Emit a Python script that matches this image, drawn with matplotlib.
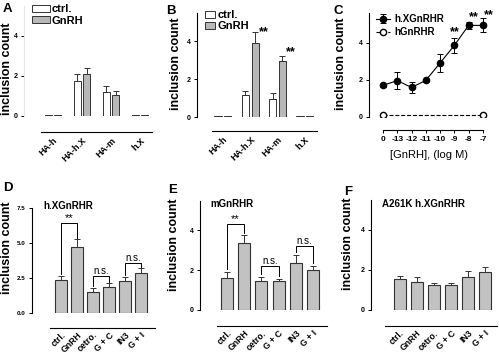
import numpy as np
import matplotlib
matplotlib.use('Agg')
import matplotlib.pyplot as plt

plt.rcParams['font.family'] = ['Liberation Sans', 'DejaVu Sans']
plt.rcParams['font.weight'] = 'bold'

W, H = 499, 356

# Panel A / B: construct localisation
ab_cats = ['HA-h', 'HA-h.X', 'HA-m', 'h.X']
a_ctrl = [0.05, 1.75, 1.2, 0.05]
a_ctrl_err = [0.0, 0.37, 0.28, 0.0]
a_gnrh = [0.05, 2.1, 1.05, 0.05]
a_gnrh_err = [0.0, 0.28, 0.22, 0.0]
b_ctrl = [0.06, 1.16, 0.96, 0.06]
b_ctrl_err = [0.0, 0.22, 0.32, 0.0]
b_gnrh = [0.06, 3.93, 2.98, 0.04]
b_gnrh_err = [0.0, 0.57, 0.22, 0.0]

# Panel C: dose response
c_labels = ['0', '-13', '-12', '-11', '-10', '-9', '-8', '-7']
c_hx = [1.69, 1.95, 1.58, 1.96, 2.9, 3.85, 4.93, 4.93]
c_hx_err = [0.06, 0.45, 0.28, 0.1, 0.48, 0.42, 0.2, 0.38]
c_h = [0.07, 0.07, 0.07, 0.07, 0.07, 0.07, 0.07, 0.07]

# Panels D-F: treatments
def_cats = ['ctrl.', 'GnRH', 'cetro.', 'G + C', 'IN3', 'G + I']
d_vals = [2.35, 4.7, 1.5, 1.83, 2.28, 2.88]
d_err = [0.29, 0.58, 0.28, 0.28, 0.31, 0.31]
e_vals = [1.63, 3.38, 1.48, 1.45, 2.37, 2.02]
e_err = [0.29, 0.37, 0.19, 0.12, 0.41, 0.2]
f_vals = [1.55, 1.42, 1.25, 1.25, 1.67, 1.89]
f_err = [0.15, 0.22, 0.08, 0.1, 0.3, 0.25]

GREY = '#b8b8b8'
EDGE = '#333333'

fig = plt.figure(figsize=(W / 100, H / 100), dpi=100)


def px_axes(x0, y0, x1, y1, offset_px, bounds, left_color='black'):
    # pixel box (top-left origin) -> figure axes, prism-like spines
    ax = fig.add_axes([x0 / W, 1 - y1 / H, (x1 - x0) / W, (y1 - y0) / H])
    for s in ['top', 'right']:
        ax.spines[s].set_visible(False)
    # set_position resets the ticks, so do it before any labels are set
    ax.spines['bottom'].set_position(('outward', offset_px * 0.72))
    ax.spines['bottom'].set_bounds(*bounds)
    ax.spines['left'].set_color(left_color)
    ax.spines['left'].set_linewidth(0.8)
    ax.spines['bottom'].set_linewidth(0.8)
    ax.tick_params(axis='y', length=2.5, width=0.7, labelsize=5, pad=2)
    return ax


def paired_bars(ax, ctrl, ctrl_err, gnrh, gnrh_err, w, off):
    x = np.arange(len(ab_cats))
    kw = dict(edgecolor=EDGE, linewidth=0.7)
    ax.bar(x - off, ctrl, w, color='white', label='ctrl.', **kw)
    ax.bar(x + off, gnrh, w, color=GREY, label='GnRH', **kw)
    ekw = dict(fmt='none', ecolor=EDGE, elinewidth=0.7, capsize=2, capthick=0.7)
    ax.errorbar(x - off, ctrl, yerr=[np.zeros(4), ctrl_err], **ekw)
    ax.errorbar(x + off, gnrh, yerr=[np.zeros(4), gnrh_err], **ekw)
    ax.set_xticks(x)
    ax.set_xticklabels(ab_cats, rotation=45, ha='right', rotation_mode='anchor', fontsize=6.5)
    ax.tick_params(axis='x', length=0, pad=3)


# ---- A
axA = px_axes(24, 6, 153, 116, 16, (-0.4, 3.4), left_color='#e6e6e6')
paired_bars(axA, a_ctrl, a_ctrl_err, a_gnrh, a_gnrh_err, 0.24, 0.17)
axA.set_xlim(-1.0, 3.45)
axA.set_ylim(0, 5.5)
axA.set_yticks([0, 2, 4])
axA.legend(loc='upper left', bbox_to_anchor=(32 / W, 1 - 4 / H), bbox_transform=fig.transFigure,
           frameon=False, fontsize=8, handlelength=1.6, handleheight=0.6, handletextpad=0.2,
           labelspacing=0.15, borderpad=0, borderaxespad=0)

# ---- B
axB = px_axes(197, 13, 318, 117, 14, (-0.4, 3.45))
paired_bars(axB, b_ctrl, b_ctrl_err, b_gnrh, b_gnrh_err, 0.26, 0.18)
axB.set_xlim(-0.95, 3.48)
axB.set_ylim(0, 5.5)
axB.set_yticks([0, 2, 4])
axB.legend(loc='upper left', bbox_to_anchor=(205 / W, 1 - 10 / H), bbox_transform=fig.transFigure,
           frameon=False, fontsize=8, handlelength=0.9, handleheight=0.6, handletextpad=0.2,
           labelspacing=0.1, borderpad=0, borderaxespad=0)
for i, y in [(1, 4.5), (2, 3.44)]:
    axB.text(i + 0.5, y, '**', ha='center', va='center', fontsize=9)

# ---- C
axC = px_axes(369, 13, 490, 116.7, 13, (0, 7))
xc = np.arange(len(c_labels))
hx = axC.errorbar(xc, c_hx, yerr=c_hx_err, color='black', marker='o', ms=4.5, lw=0.8,
                  elinewidth=0.7, capsize=2, capthick=0.7)
hh, = axC.plot(xc, c_h, color='black', ls='--', lw=0.8, marker='o', ms=4.5, mfc='white',
               markevery=[0, len(c_h) - 1])
axC.set_xlim(-0.98, 7.5)
axC.set_ylim(0, 5.6)
axC.set_yticks([0, 2, 4])
axC.set_xticks(xc)
axC.set_xticklabels(c_labels, fontsize=6)
axC.tick_params(axis='x', length=2.5, width=0.7, pad=2)
axC.set_xlabel('[GnRH], (log M)', fontsize=8, labelpad=5, fontweight='normal')
axC.legend([hx, hh], ['h.XGnRHR', 'hGnRHR'], loc='upper left', bbox_to_anchor=(376 / W, 1 - 14 / H),
           bbox_transform=fig.transFigure, frameon=False, fontsize=7, handlelength=1.4,
           handletextpad=0.5, labelspacing=0.35, borderpad=0, borderaxespad=0)
for i, y in [(5.0, 4.58), (6.35, 5.39), (7.4, 5.5)]:
    axC.text(i, y, '**', ha='center', va='center', fontsize=9, clip_on=False)


# ---- D, E, F
def treat_bars(ax, vals, err, w):
    x = np.arange(len(def_cats))
    ax.bar(x, vals, w, color='#c2c2c2', edgecolor=EDGE, linewidth=0.8)
    ax.errorbar(x, vals, yerr=[np.zeros(len(vals)), err], fmt='none', ecolor=EDGE,
                elinewidth=0.7, capsize=2.5, capthick=0.7)
    ax.set_xticks(x)
    ax.set_xticklabels(def_cats, rotation=45, ha='right', rotation_mode='anchor', fontsize=6.3)
    ax.tick_params(axis='x', length=0, pad=2)


def bracket(ax, vals, err, i, j, top, label, fs):
    lo_i = vals[i] + err[i] + 0.12
    lo_j = vals[j] + err[j] + 0.12
    ax.plot([i, i, j, j], [lo_i, top, top, lo_j], color='black', lw=0.7)
    ax.text((i + j) / 2, top, label, ha='center', va='bottom', fontsize=fs, fontweight='normal')


axD = px_axes(32, 208.3, 157, 312.7, 15, (-0.7, 5.9))
treat_bars(axD, d_vals, d_err, 0.75)
axD.set_xlim(-1.81, 6.0)
axD.set_ylim(0, 7.5)
axD.set_yticks([0, 2.5, 5.0, 7.5])
axD.set_yticklabels(['0.0', '2.5', '5.0', '7.5'])
axD.tick_params(axis='y', labelsize=4.5)
bracket(axD, d_vals, d_err, 0, 1, 6.45, '**', 8)
bracket(axD, d_vals, d_err, 2, 3, 2.63, 'n.s.', 7)
bracket(axD, d_vals, d_err, 4, 5, 3.55, 'n.s.', 7)

axE = px_axes(200, 200.5, 329, 310, 16, (-0.58, 5.81))
treat_bars(axE, e_vals, e_err, 0.7)
axE.set_xlim(-1.57, 5.93)
axE.set_ylim(0, 5.5)
axE.set_yticks([0, 2, 4])
bracket(axE, e_vals, e_err, 0, 1, 4.3, '**', 8)
bracket(axE, e_vals, e_err, 2, 3, 2.23, 'n.s.', 7)
bracket(axE, e_vals, e_err, 4, 5, 3.23, 'n.s.', 7)

axF = px_axes(371, 200, 498, 310, 16, (-0.85, 5.7))
treat_bars(axF, f_vals, f_err, 0.7)
axF.set_xlim(-1.67, 5.76)
axF.set_ylim(0, 5.5)
axF.set_yticks([0, 2, 4])

# subtitles
fig.text(43 / W, 1 - 205.5 / H, 'h.XGnRHR', fontsize=7, va='center')
fig.text(210 / W, 1 - 204 / H, 'mGnRHR', fontsize=7, va='center')
fig.text(382 / W, 1 - 204 / H, 'A261K h.XGnRHR', fontsize=7, va='center')

# y labels
for x, y in [(7, 69), (176, 64), (341, 64), (7, 248), (174, 245), (348, 244)]:
    fig.text(x / W, 1 - y / H, 'inclusion count', rotation=90, ha='center', va='center', fontsize=9)

# panel letters
for lab, x, y in [('A', 3, 9), ('B', 166, 11), ('C', 334, 11), ('D', 3, 188), ('E', 168, 190), ('F', 344, 192)]:
    fig.text(x / W, 1 - y / H, lab, fontsize=9.5, va='center', ha='left')

fig.savefig('out.png', dpi=100)
